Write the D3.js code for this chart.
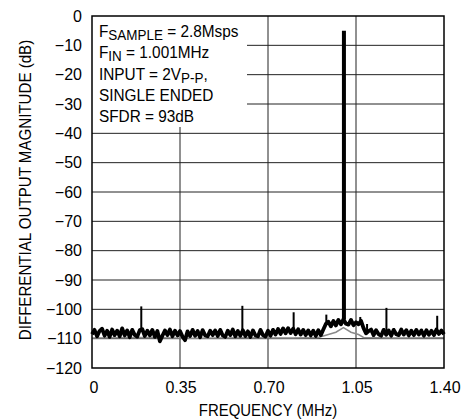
<!DOCTYPE html>
<html>
<head>
<meta charset="utf-8">
<script src="https://cdn.jsdelivr.net/npm/d3@7"></script>
<style>
  body { margin: 0; background: #fff; }
  svg text { font-family: "Liberation Sans Narrow", "Arial Narrow", "Liberation Sans", sans-serif; fill: #000; }
</style>
</head>
<body>
<div id="canvas"></div>
<script>
// Data - noise floor, one value every 0.01 MHz from 0 to 1.40
let floorStep = 0.01
let floorDb = [
  -108.5, -107.0, -109.2, -107.4, -106.6, -109.0, -107.3, -109.4, -106.9, -108.8,
  -107.3, -109.2, -106.5, -108.9, -107.2, -109.5, -107.0, -108.7, -109.3, -107.1,
  -106.8, -109.1, -107.3, -108.9, -107.0, -109.4, -107.4, -110.9, -109.0, -107.2,
  -108.8, -106.9, -109.2, -107.3, -108.9, -107.4, -109.3, -110.5, -107.5, -109.1,
  -107.0, -109.0, -107.4, -109.5, -107.1, -108.9, -109.2, -107.3, -108.8, -107.2,
  -109.1, -107.0, -108.9, -109.4, -107.3, -108.8, -106.9, -109.2, -107.4, -109.0,
  -107.1, -109.1, -107.5, -109.4, -107.2, -108.9, -109.2, -107.0, -108.8, -109.3,
  -107.3, -109.0, -107.0, -108.6, -106.7, -108.4, -106.5, -108.2, -106.4, -108.1,
  -106.6, -108.5, -106.8, -108.6, -107.0, -108.8, -107.2, -108.9, -107.3, -109.1,
  -107.1, -108.8, -106.9, -105.0, -104.2, -105.8, -104.0, -105.5, -103.6, -105.1,
  -103.4, -104.9, -105.2, -103.6, -105.4, -104.4, -105.1, -103.9, -106.4, -108.2,
  -107.4, -106.9, -108.8, -107.1, -108.5, -109.0, -107.0, -108.7, -107.2, -109.0,
  -107.0, -108.5, -108.8, -106.9, -108.6, -107.1, -108.9, -107.3, -108.8, -107.0,
  -108.6, -107.2, -109.0, -107.1, -108.7, -107.3, -108.8, -106.9, -108.4, -107.2,
  -108.5
]

// Spurs and the fundamental: frequency (MHz) and peak level (dB)
let spurFreq = [0.196, 0.598, 0.802, 0.932, 1.067, 1.094, 1.171, 1.373]
let spurDb = [-99.0, -98.8, -101.0, -101.8, -102.6, -105.0, -99.5, -102.2]
let toneFreq = 1.002
let toneDb = -5.0

// Lower grey trace
let greyFreq = [0, 0.20, 0.40, 0.60, 0.80, 0.90, 0.94, 0.97, 1.00, 1.03, 1.06, 1.08, 1.20, 1.40]
let greyDb = [-109.8, -109.6, -109.9, -109.7, -109.8, -109.6, -108.6, -107.8, -106.2, -107.8, -108.6, -109.6, -109.8, -109.7]

// Axes
let xTicks = [0, 0.35, 0.70, 1.05, 1.40]
let xTickLabels = ['0', '0.35', '0.70', '1.05', '1.40']
let yTicks = [0, -10, -20, -30, -40, -50, -60, -70, -80, -90, -100, -110, -120]

// Note box lines
let noteLines = [
  [['F', ''], ['SAMPLE', 'sub'], [' = 2.8Msps', '']],
  [['F', ''], ['IN', 'sub'], [' = 1.001MHz', '']],
  [['INPUT = 2V', ''], ['P-P', 'sub'], [',', '']],
  [['SINGLE ENDED', '']],
  [['SFDR = 93dB', '']]
]

let width = 470
let height = 419
let plot = { left: 92, top: 16, right: 444, bottom: 368 }

let svg = d3.select('#canvas')
    .append('svg')
    .attr('width', width)
    .attr('height', height)

let x = d3.scaleLinear().domain([0, 1.4]).range([plot.left, plot.right])
let y = d3.scaleLinear().domain([0, -120]).range([plot.top, plot.bottom])

// narrow the sans font a bit about its anchor (no condensed face installed)
let squeeze = (ax, k) => `translate(${ax},0) scale(${k},1) translate(${-ax},0)`

// Grid lines
svg.append('g')
    .selectAll('line')
    .data(yTicks.slice(1, -1))
    .enter()
    .append('line')
    .attr('x1', plot.left)
    .attr('x2', plot.right)
    .attr('y1', d => y(d))
    .attr('y2', d => y(d))
    .attr('stroke', '#222')
    .attr('stroke-width', 1)

svg.append('g')
    .selectAll('line')
    .data(xTicks.slice(1, -1))
    .enter()
    .append('line')
    .attr('x1', d => x(d))
    .attr('x2', d => x(d))
    .attr('y1', plot.top)
    .attr('y2', plot.bottom)
    .attr('stroke', '#222')
    .attr('stroke-width', 1)

// Grey trace
let greyData = greyFreq.map((f, i) => [f, greyDb[i]])
svg.append('path')
    .datum(greyData)
    .attr('d', d3.line().x(d => x(d[0])).y(d => y(d[1])))
    .attr('fill', 'none')
    .attr('stroke', '#8a8a8a')
    .attr('stroke-width', 1.5)

// Black noise floor
let floorData = floorDb.map((v, i) => [i * floorStep, v])
svg.append('path')
    .datum(floorData)
    .attr('d', d3.line().x(d => x(d[0])).y(d => y(d[1])))
    .attr('fill', 'none')
    .attr('stroke', '#000')
    .attr('stroke-width', 3.8)
    .attr('stroke-linejoin', 'round')

// Spurs drawn as vertical strokes from the floor
let floorAt = f => floorDb[Math.round(f / floorStep)]
svg.append('g')
    .selectAll('line')
    .data(spurFreq.map((f, i) => [f, spurDb[i]]))
    .enter()
    .append('line')
    .attr('x1', d => x(d[0]))
    .attr('x2', d => x(d[0]))
    .attr('y1', d => y(floorAt(d[0])))
    .attr('y2', d => y(d[1]))
    .attr('stroke', '#000')
    .attr('stroke-width', 2)

// Fundamental
svg.append('line')
    .attr('x1', x(toneFreq))
    .attr('x2', x(toneFreq))
    .attr('y1', y(floorAt(toneFreq)))
    .attr('y2', y(toneDb))
    .attr('stroke', '#000')
    .attr('stroke-width', 4)

// White note box covering the grid in the top left
svg.append('rect')
    .attr('x', plot.left)
    .attr('y', plot.top)
    .attr('width', 155)
    .attr('height', 111)
    .attr('fill', '#fff')

let note = svg.append('text')
    .attr('x', 99)
    .attr('y', 37)
    .attr('transform', squeeze(99, 0.96))
    .style('font-size', '16px')

noteLines.forEach((line, li) => {
  line.forEach((part, pi) => {
    let t = note.append('tspan').text(part[0])
    if (pi == 0) t.attr('x', 99).attr('y', 37 + li * 21.3)
    if (part[1] == 'sub') t.attr('dy', 3).style('font-size', '14px')
    else if (pi > 0 && line[pi - 1][1] == 'sub') t.attr('dy', -3)
  })
})

// Plot frame
svg.append('rect')
    .attr('x', plot.left)
    .attr('y', plot.top)
    .attr('width', plot.right - plot.left)
    .attr('height', plot.bottom - plot.top)
    .attr('fill', 'none')
    .attr('stroke', '#000')
    .attr('stroke-width', 1.5)

// Y tick labels
svg.append('g')
    .selectAll('text')
    .data(yTicks)
    .enter()
    .append('text')
    .attr('x', 82)
    .attr('y', d => y(d))
    .attr('dy', '0.36em')
    .attr('text-anchor', 'end')
    .style('font-size', '16px')
    .text(d => d == 0 ? '0' : '\u2212' + Math.abs(d))

// X tick labels
svg.append('g')
    .selectAll('text')
    .data(xTicks)
    .enter()
    .append('text')
    .attr('x', (d, i) => x(d) + (i == 0 ? 2 : 1))
    .attr('y', 393)
    .attr('text-anchor', 'middle')
    .style('font-size', '16px')
    .text((d, i) => xTickLabels[i])

// Axis titles
svg.append('text')
    .attr('x', 268)
    .attr('y', 416)
    .attr('text-anchor', 'middle')
    .attr('transform', squeeze(268, 0.935))
    .style('font-size', '16px')
    .text('FREQUENCY (MHz)')

svg.append('text')
    .attr('transform', 'translate(25,190) rotate(-90) scale(0.945,1)')
    .attr('dy', '0.36em')
    .attr('text-anchor', 'middle')
    .style('font-size', '16px')
    .text('DIFFERENTIAL OUTPUT MAGNITUDE (dB)')
</script>
</body>
</html>
